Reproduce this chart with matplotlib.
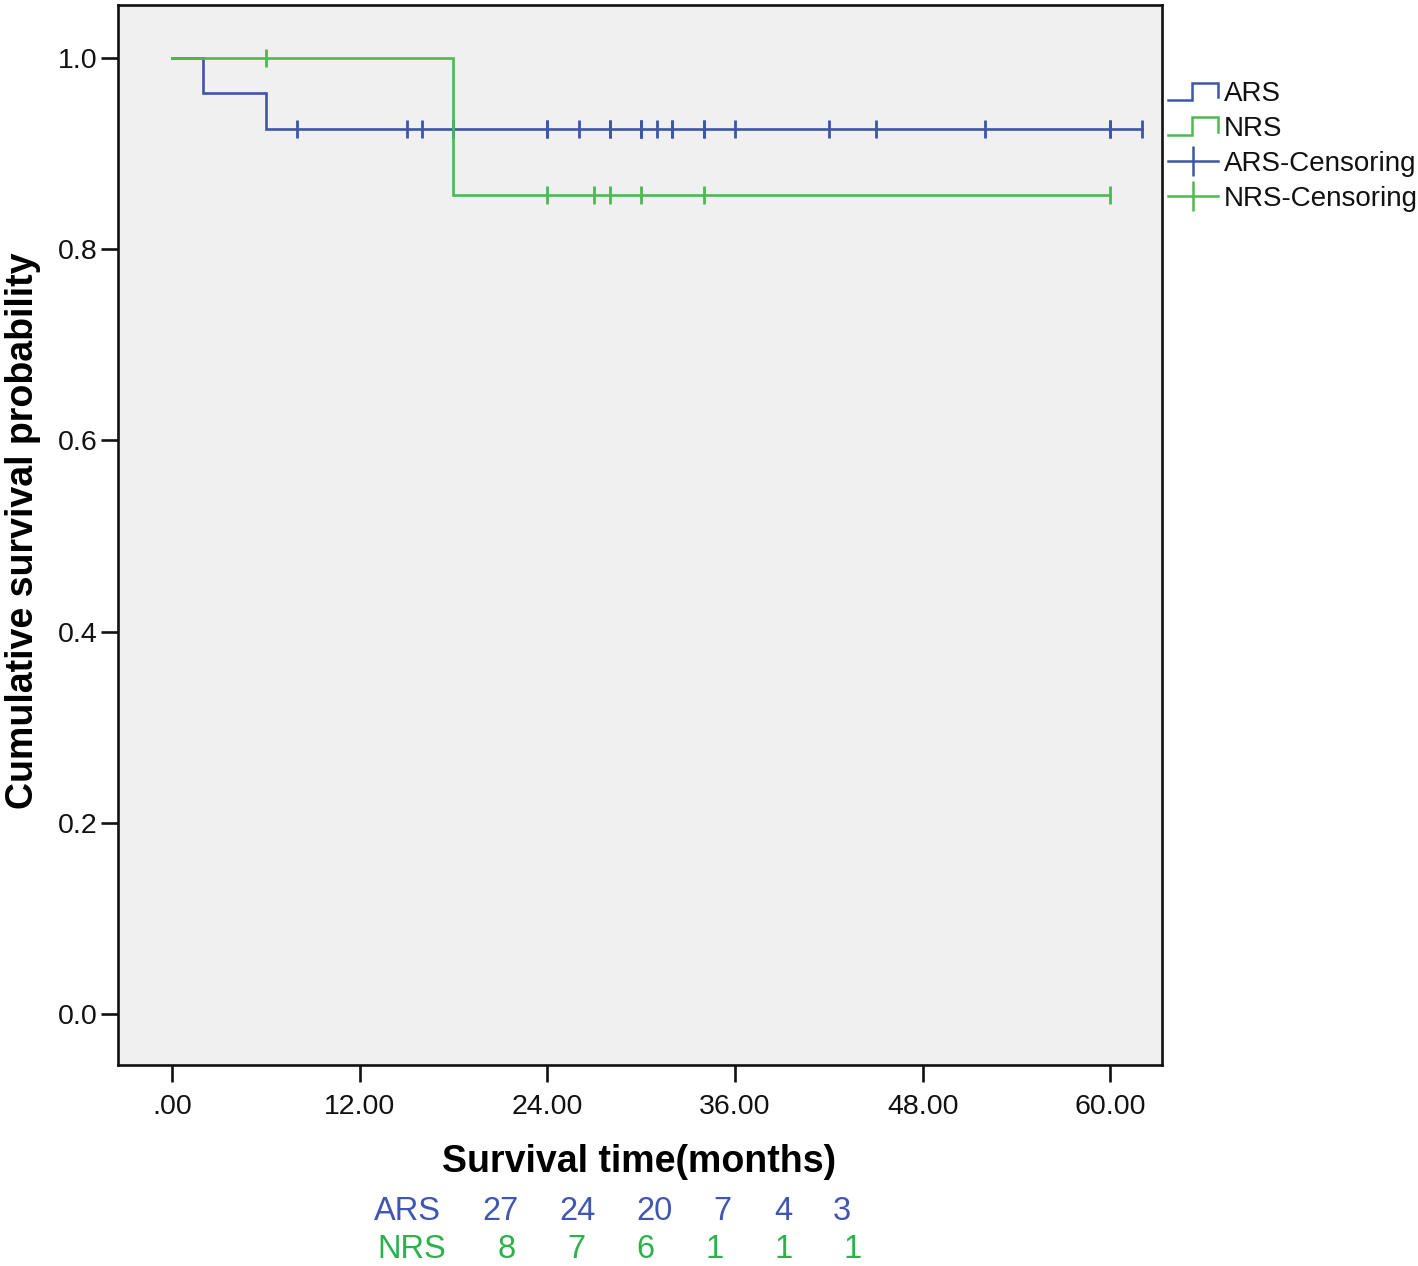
import numpy as np
import matplotlib
matplotlib.use("Agg")
import matplotlib.pyplot as plt
from matplotlib.legend_handler import HandlerBase
from matplotlib.lines import Line2D

# ---------------- data ----------------
ars_times = [2, 6, 8, 15, 16, 18, 18, 24, 24, 26, 28, 28, 30, 30, 30, 31, 32, 32,
             34, 34, 36, 42, 45, 52, 60, 60, 62]
ars_events = [1, 1, 0, 0, 0, 0, 0, 0, 0, 0, 0, 0, 0, 0, 0, 0, 0, 0,
              0, 0, 0, 0, 0, 0, 0, 0, 0]
nrs_times = [6, 18, 24, 27, 28, 30, 34, 60]
nrs_events = [0, 1, 0, 0, 0, 0, 0, 0]

x_ticks = [0, 12, 24, 36, 48, 60]
x_ticklabels = [".00", "12.00", "24.00", "36.00", "48.00", "60.00"]
y_ticks = [0.0, 0.2, 0.4, 0.6, 0.8, 1.0]
y_ticklabels = ["0.0", "0.2", "0.4", "0.6", "0.8", "1.0"]

risk_groups = ["ARS", "NRS"]
ars_at_risk = [27, 24, 20, 7, 4, 3]
nrs_at_risk = [8, 7, 6, 1, 1, 1]

BLUE = "#3D55AA"
GREEN = "#4DBA50"
BLUE_TXT = "#3F57B2"
GREEN_TXT = "#2BB24A"


def km(times, events):
    t = np.asarray(times, float)
    e = np.asarray(events, int)
    order = np.argsort(t, kind="stable")
    t, e = t[order], e[order]
    xs, ys = [0.0], [1.0]
    s = 1.0
    for ut in np.unique(t):
        n = np.sum(t >= ut)
        d = np.sum((t == ut) & (e == 1))
        if d > 0:
            s *= (n - d) / n
            xs.append(ut)
            ys.append(s)
    xs.append(t.max())
    ys.append(s)
    cens_t = t[e == 0]
    cens_s = []
    for ct in cens_t:
        idx = np.searchsorted(np.array(xs[:-1]), ct, side="right") - 1
        cens_s.append(ys[idx])
    return np.array(xs), np.array(ys), cens_t, np.array(cens_s)


plt.rcParams["font.family"] = ["Liberation Sans", "DejaVu Sans"]

W, H = 1418, 1266
fig = plt.figure(figsize=(W / 100, H / 100), dpi=100)
L, R, T, B = 118, 1162, 5, 1065
ax = fig.add_axes([L / W, 1 - B / H, (R - L) / W, (B - T) / H])
ax.set_facecolor("#F0F0F0")

lw = 1.9
for times, events, col in [(ars_times, ars_events, BLUE), (nrs_times, nrs_events, GREEN)]:
    xs, ys, ct, cs = km(times, events)
    ax.step(xs, ys, where="post", color=col, lw=lw, solid_joinstyle="miter")
    ax.plot(ct, cs, ls="none", marker="|", ms=12.5, mew=2.0, color=col)

ax.set_xlim(-3.45, 63.3)
ax.set_ylim(-0.0533, 1.0554)
ax.set_xticks(x_ticks)
ax.set_xticklabels(x_ticklabels)
ax.set_yticks(y_ticks)
ax.set_yticklabels(y_ticklabels)
ax.tick_params(axis="both", direction="out", length=12, width=1.9, labelsize=20.5,
               color="#111111", labelcolor="#111111")
ax.tick_params(axis="x", pad=9)
ax.tick_params(axis="y", pad=3)
for sp in ax.spines.values():
    sp.set_linewidth(1.9)
    sp.set_color("#111111")

ax.set_xlabel("Survival time(months)", fontsize=27, fontweight="bold",
              va="center", ha="center")
ax.xaxis.set_label_coords(0.4995, -0.0915)
ax.set_ylabel("Cumulative survival probability", fontsize=27, fontweight="bold",
              va="center", ha="center")
ax.yaxis.set_label_coords(-0.091, 0.504)


# ---------------- legend ----------------
class StepHandler(HandlerBase):
    def create_artists(self, legend, orig_handle, xdescent, ydescent, width,
                       height, fontsize, trans):
        x0, y0 = -xdescent, -ydescent
        xm = x0 + 0.47 * width
        xs = [x0, xm, xm, x0 + width, x0 + width]
        ys = [y0 + 0.05 * height, y0 + 0.05 * height, y0 + 0.95 * height,
              y0 + 0.95 * height, y0 + 0.2 * height]
        ln = Line2D(xs, ys, color=orig_handle.get_color(), lw=1.8,
                    solid_joinstyle="miter")
        ln.set_transform(trans)
        return [ln]


h_ars = Line2D([], [], color=BLUE)
h_nrs = Line2D([], [], color=GREEN)
h_arsc = Line2D([], [], color=BLUE, lw=1.8, marker="|", ms=22, mew=1.8)
h_nrsc = Line2D([], [], color=GREEN, lw=1.8, marker="|", ms=22, mew=1.8)
leg = fig.legend([h_ars, h_nrs, h_arsc, h_nrsc],
                 ["ARS", "NRS", "ARS-Censoring", "NRS-Censoring"],
                 loc="upper left", bbox_to_anchor=(1168 / W, 1 - 81 / H),
                 frameon=False, fontsize=20, handlelength=1.8, handletextpad=0.2,
                 labelspacing=0.32, borderpad=0, borderaxespad=0, numpoints=1,
                 handler_map={h_ars: StepHandler(), h_nrs: StepHandler()})
for t in leg.get_texts():
    t.set_color("#111111")

# ---------------- numbers at risk ----------------
ars_x = [407, 500, 578, 655, 722, 783, 842]
nrs_x = [412, 507, 576, 645, 715, 784, 853]
rows = [(risk_groups[0], ars_at_risk, ars_x, 1212, BLUE_TXT),
        (risk_groups[1], nrs_at_risk, nrs_x, 1250, GREEN_TXT)]
for name, vals, xpos, ypix, col in rows:
    labels = [name] + [str(v) for v in vals]
    for lab, xp in zip(labels, xpos):
        fig.text(xp / W, 1 - ypix / H, lab, ha="center", va="center",
                 fontsize=23.5, color=col)

fig.savefig("out.png", dpi=100, facecolor="white")
